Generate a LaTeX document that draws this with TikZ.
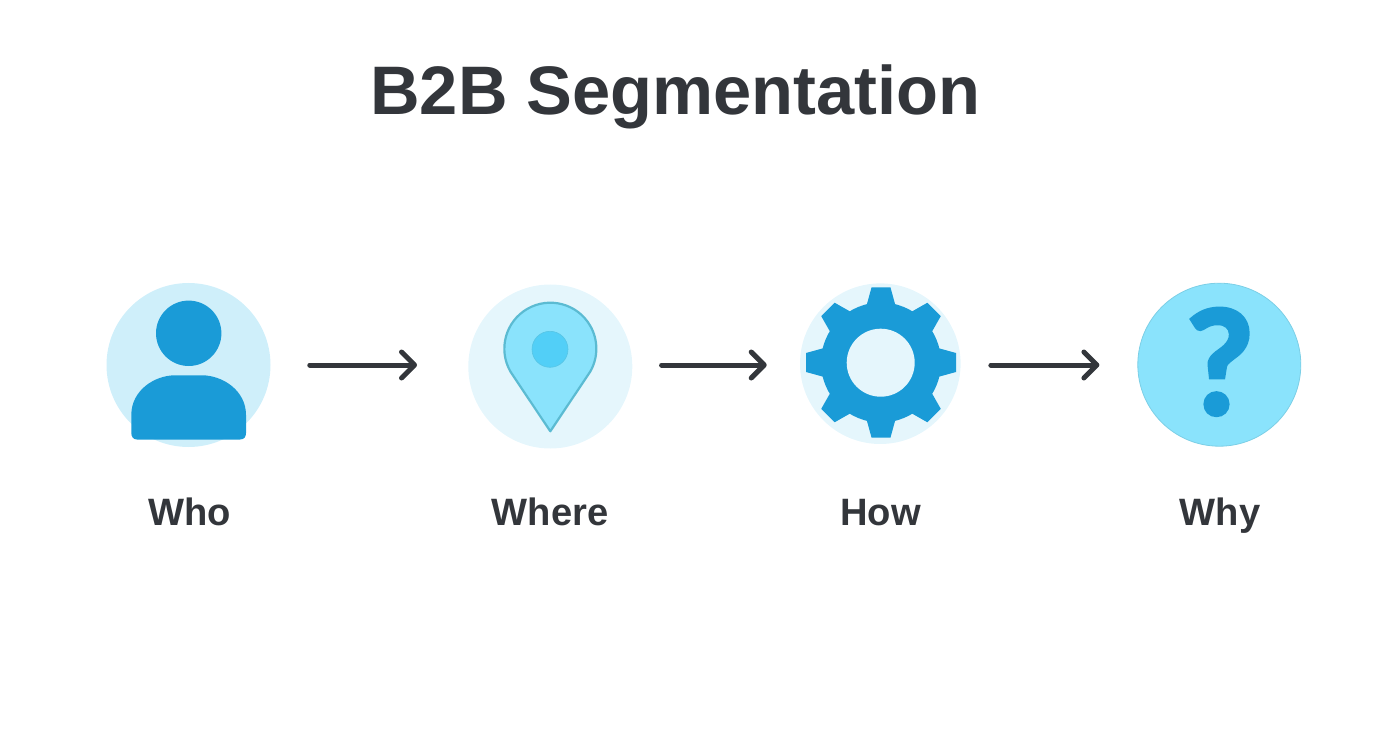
\documentclass[tikz,border=0pt]{standalone}
\usepackage{fontspec}
\setmainfont{Liberation Sans}
\newfontfamily\markfont[BoldFeatures={FakeBold=3}]{Lato}
\usetikzlibrary{arrows.meta}
\newlength{\du}
\setlength{\du}{0.75pt}
\definecolor{inkcolor}{rgb}{0.200000, 0.212000, 0.231000}
\definecolor{deepblue}{rgb}{0.102000, 0.608000, 0.843000}
\definecolor{paleblue}{rgb}{0.812000, 0.937000, 0.980000}
\definecolor{mistblue}{rgb}{0.898000, 0.965000, 0.988000}
\definecolor{skyblue}{rgb}{0.541000, 0.890000, 0.988000}
\definecolor{brightblue}{rgb}{0.322000, 0.812000, 0.969000}
\definecolor{pinedge}{rgb}{0.357000, 0.733000, 0.824000}
\definecolor{whyedge}{rgb}{0.486000, 0.812000, 0.902000}
\tikzset{
  iconbox/.style={circle,inner sep=0pt,minimum size=#1*2\du},
  titlelabel/.style={anchor=base,text=inkcolor,font=\fontsize{51.5}{60}\selectfont\bfseries},
  steplabel/.style={anchor=base,text=inkcolor,font=\fontsize{28.6}{34}\selectfont\bfseries},
  flowarrow/.style={draw=inkcolor,line width=5\du,line cap=round,-{Straight Barb[round,length=9.75pt,width=19.5pt]}},
}
\begin{document}
\begin{tikzpicture}
\pgftransformxscale{1.000000}
\pgftransformyscale{-1.000000}
\useasboundingbox (0\du,0\du) rectangle (1392\du,752\du);
% title
\node[titlelabel] (title) at (675.5\du,115\du){B2B Segmentation};
% who
\node[iconbox=82,fill=paleblue] (whoicon) at (188.5\du,365\du){};
\node[iconbox=32.7,fill=deepblue] (whohead) at (188.7\du,333.3\du){};
\fill[deepblue] (131.3\du,433\du)--(131.3\du,415\du) .. controls (131.3\du,390\du) and (155\du,375.3\du) .. (175\du,375.3\du)--(202\du,375.3\du) .. controls (222\du,375.3\du) and (246\du,390\du) .. (246\du,415\du)--(246\du,433\du) .. controls (246\du,437\du) and (244\du,439.5\du) .. (240\du,439.5\du)--(137\du,439.5\du) .. controls (133.5\du,439.5\du) and (131.3\du,437\du) .. (131.3\du,433\du)--cycle;
\node[steplabel] (wholabel) at (189.5\du,525\du){Who};
% where
\node[iconbox=82,fill=mistblue] (whereicon) at (550.3\du,366.5\du){};
\filldraw[fill=skyblue,draw=pinedge,line width=2.2\du,line join=round] (550.3\du,431.3\du)--(510.5\du,371.7\du) arc[start angle=150,end angle=390,radius=46\du]--cycle;
\node[iconbox=18,fill=brightblue,draw=pinedge!50!brightblue,line width=0.6\du] (wheredot) at (550\du,349.3\du){};
\node[steplabel] (wherelabel) at (550\du,525\du){Where};
% how
\node[iconbox=80.3,fill=mistblue] (howicon) at (880.3\du,363.7\du){};
\node[iconbox=60,fill=deepblue] (howgear) at (881\du,362.5\du){};
\fill[deepblue,rotate around={0:(howgear)}] ([xshift=-15\du,yshift=-55\du]howgear.center)--([xshift=-9.5\du,yshift=-75\du]howgear.center)--([xshift=9.5\du,yshift=-75\du]howgear.center)--([xshift=15\du,yshift=-55\du]howgear.center)--cycle;
\fill[deepblue,rotate around={45:(howgear)}] ([xshift=-15\du,yshift=-55\du]howgear.center)--([xshift=-9.5\du,yshift=-75\du]howgear.center)--([xshift=9.5\du,yshift=-75\du]howgear.center)--([xshift=15\du,yshift=-55\du]howgear.center)--cycle;
\fill[deepblue,rotate around={90:(howgear)}] ([xshift=-15\du,yshift=-55\du]howgear.center)--([xshift=-9.5\du,yshift=-75\du]howgear.center)--([xshift=9.5\du,yshift=-75\du]howgear.center)--([xshift=15\du,yshift=-55\du]howgear.center)--cycle;
\fill[deepblue,rotate around={135:(howgear)}] ([xshift=-15\du,yshift=-55\du]howgear.center)--([xshift=-9.5\du,yshift=-75\du]howgear.center)--([xshift=9.5\du,yshift=-75\du]howgear.center)--([xshift=15\du,yshift=-55\du]howgear.center)--cycle;
\fill[deepblue,rotate around={180:(howgear)}] ([xshift=-15\du,yshift=-55\du]howgear.center)--([xshift=-9.5\du,yshift=-75\du]howgear.center)--([xshift=9.5\du,yshift=-75\du]howgear.center)--([xshift=15\du,yshift=-55\du]howgear.center)--cycle;
\fill[deepblue,rotate around={225:(howgear)}] ([xshift=-15\du,yshift=-55\du]howgear.center)--([xshift=-9.5\du,yshift=-75\du]howgear.center)--([xshift=9.5\du,yshift=-75\du]howgear.center)--([xshift=15\du,yshift=-55\du]howgear.center)--cycle;
\fill[deepblue,rotate around={270:(howgear)}] ([xshift=-15\du,yshift=-55\du]howgear.center)--([xshift=-9.5\du,yshift=-75\du]howgear.center)--([xshift=9.5\du,yshift=-75\du]howgear.center)--([xshift=15\du,yshift=-55\du]howgear.center)--cycle;
\fill[deepblue,rotate around={315:(howgear)}] ([xshift=-15\du,yshift=-55\du]howgear.center)--([xshift=-9.5\du,yshift=-75\du]howgear.center)--([xshift=9.5\du,yshift=-75\du]howgear.center)--([xshift=15\du,yshift=-55\du]howgear.center)--cycle;
\node[iconbox=34,fill=mistblue] (howhole) at (880.7\du,362.7\du){};
\node[steplabel] (howlabel) at (880.5\du,525\du){How};
% why
\node[iconbox=81.5,fill=skyblue,draw=whyedge,line width=0.8\du] (whyicon) at (1219.3\du,364.7\du){};
\node[anchor=base,text=deepblue,font=\markfont\fontsize{108}{120}\selectfont\bfseries] (whymark) at (1220\du,414\du){?};
\node[steplabel] (whylabel) at (1220\du,525\du){Why};
% arrows
\draw[flowarrow,shorten <=39\du,shorten >=51\du] (whoicon.east)--(whereicon.west |- whoicon.east);
\draw[flowarrow,shorten <=29\du,shorten >=33\du] (whereicon.east |- whoicon.east)--(howicon.west |- whoicon.east);
\draw[flowarrow,shorten <=30\du,shorten >=38\du] (howicon.east |- whoicon.east)--(whyicon.west |- whoicon.east);
\end{tikzpicture}
\end{document}
